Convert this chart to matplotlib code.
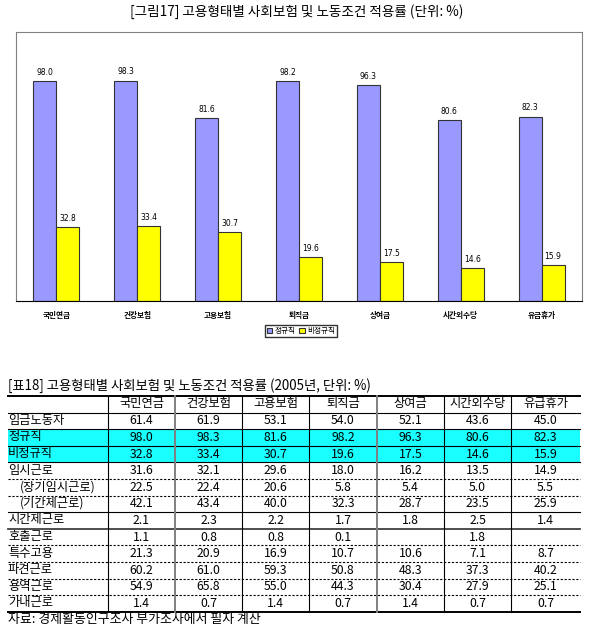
import matplotlib
matplotlib.use("Agg")
import matplotlib.pyplot as plt
import numpy as np

plt.rcParams['font.family'] = ['Noto Sans CJK KR', 'DejaVu Sans']

# --- data ---
columns = ['국민연금', '건강보험', '고용보험', '퇴직금', '상여금', '시간외수당', '유급휴가']
row_labels = ['임금노동자', '정규직', '비정규직', '임시근로', '(장기임시근로)', '(기간제근로)',
              '시간제근로', '호출근로', '특수고용', '파견근로', '용역근로', '가내근로']
wage_workers = [61.4, 61.9, 53.1, 54.0, 52.1, 43.6, 45.0]
regular = [98.0, 98.3, 81.6, 98.2, 96.3, 80.6, 82.3]
nonregular = [32.8, 33.4, 30.7, 19.6, 17.5, 14.6, 15.9]
temporary = [31.6, 32.1, 29.6, 18.0, 16.2, 13.5, 14.9]
long_temp = [22.5, 22.4, 20.6, 5.8, 5.4, 5.0, 5.5]
fixed_term = [42.1, 43.4, 40.0, 32.3, 28.7, 23.5, 25.9]
part_time = [2.1, 2.3, 2.2, 1.7, 1.8, 2.5, 1.4]
on_call = [1.1, 0.8, 0.8, 0.1, None, 1.8, None]
special = [21.3, 20.9, 16.9, 10.7, 10.6, 7.1, 8.7]
dispatched = [60.2, 61.0, 59.3, 50.8, 48.3, 37.3, 40.2]
service = [54.9, 65.8, 55.0, 44.3, 30.4, 27.9, 25.1]
home = [1.4, 0.7, 1.4, 0.7, 1.4, 0.7, 0.7]
table_rows = [wage_workers, regular, nonregular, temporary, long_temp, fixed_term,
              part_time, on_call, special, dispatched, service, home]

W, H = 595, 633
fig = plt.figure(figsize=(W / 100, H / 100), dpi=100)
fig.patch.set_facecolor('white')

# --- bar chart ---
ax = fig.add_axes([16 / W, 1 - 301 / H, (582 - 16) / W, (301 - 32) / H])
x = np.arange(len(columns))
w = 0.285
b1 = ax.bar(x - w / 2, regular, w, color='#9999FF', edgecolor='#333333', linewidth=0.8, label='정규직')
b2 = ax.bar(x + w / 2, nonregular, w, color='#FFFF00', edgecolor='#333333', linewidth=0.8, label='비정규직')
for bars, vals in [(b1, regular), (b2, nonregular)]:
    for r, v in zip(bars, vals):
        ax.annotate(f'{v:.1f}', (r.get_x() + r.get_width() / 2, v), xytext=(0, 3),
                    textcoords='offset points', ha='center', va='bottom',
                    fontsize=5.5, family='DejaVu Sans')
ax.set_xlim(-0.5, len(columns) - 0.5)
ax.set_ylim(0, 120)
ax.set_yticks([])
ax.set_xticks(x)
ax.set_xticklabels(columns, fontsize=5.5, fontweight='bold')
ax.tick_params(axis='x', length=0, pad=7)
for s in ['top', 'left', 'right']:
    ax.spines[s].set_color('#808080')
ax.spines['bottom'].set_color('black')

fig.legend(loc='center', bbox_to_anchor=(301 / W, 1 - 331 / H), ncol=2, fontsize=5.5,
           frameon=True, fancybox=False, edgecolor='black', handlelength=0.7,
           handleheight=0.7, handletextpad=0.3, columnspacing=0.5, borderpad=0.25)

# --- table (pixel coordinates) ---
tb = fig.add_axes([0, 0, 1, 1])
tb.set_xlim(0, W)
tb.set_ylim(H, 0)
tb.axis('off')
tb.patch.set_visible(False)

tb.text(297, 12, '[그림17] 고용형태별 사회보험 및 노동조건 적용률 (단위: %)',
        ha='center', va='center', fontsize=9.8)

col_edges = [8, 108, 175, 242, 309, 377, 444, 511, 580]
top = 396
rh = 16.6
n_rows = len(row_labels) + 1
bottom = top + rh * n_rows
fs = 8.8
dy = -0.6

tb.text(8, 386, '[표18] 고용형태별 사회보험 및 노동조건 적용률 (2005년, 단위: %)',
        ha='left', va='center', fontsize=9.6)

# cyan rows
for i in (2, 3):
    tb.add_patch(plt.Rectangle((col_edges[0], top + i * rh), col_edges[-1] - col_edges[0], rh,
                               facecolor='#19FFFF', edgecolor='none', zorder=0))

# header
for j, c in enumerate(columns):
    cx = (col_edges[j + 1] + col_edges[j + 2]) / 2
    tb.text(cx, top + rh / 2 + dy, c, ha='center', va='center', fontsize=fs)

# body
for i, (lab, vals) in enumerate(zip(row_labels, table_rows), start=1):
    cy = top + i * rh + rh / 2 + dy
    lx = 20 if lab.startswith('(') else 8
    tb.text(lx, cy, lab, ha='left', va='center', fontsize=fs)
    for j, v in enumerate(vals):
        if v is None:
            continue
        cx = (col_edges[j + 1] + col_edges[j + 2]) / 2
        tb.text(cx, cy + 0.6, f'{v:.1f}', ha='center', va='center', fontsize=fs)

# horizontal lines
line_styles = ['solid', 'solid', 'solid', 'solid', 'dashed', 'dashed', 'solid',
               'thick', 'dashed', 'dashed', 'dashed', 'dashed', 'bottom']
tb.plot([col_edges[0], col_edges[-1]], [top, top], color='black', lw=1.4)
for i, st in enumerate(line_styles, start=1):
    y = top + i * rh
    if st == 'dashed':
        tb.plot([col_edges[0], col_edges[-1]], [y, y], color='black', lw=0.8, ls=(0, (2, 1.5)))
    elif st == 'thick':
        tb.plot([col_edges[0], col_edges[-1]], [y, y], color='#404040', lw=1.3)
    elif st == 'bottom':
        tb.plot([col_edges[0], col_edges[-1]], [y, y], color='black', lw=1.4)
    else:
        tb.plot([col_edges[0], col_edges[-1]], [y, y], color='black', lw=0.8)

# vertical lines
for xe in col_edges[1:-1]:
    if xe in (175, 377):
        tb.plot([xe, xe], [top, bottom], color='#808080', lw=1.4)
    else:
        tb.plot([xe, xe], [top, bottom], color='black', lw=0.8)

tb.text(8, 620, '자료: 경제활동인구조사 부가조사에서 필자 계산', ha='left', va='center', fontsize=9.3)

fig.savefig('out.png', dpi=100)
